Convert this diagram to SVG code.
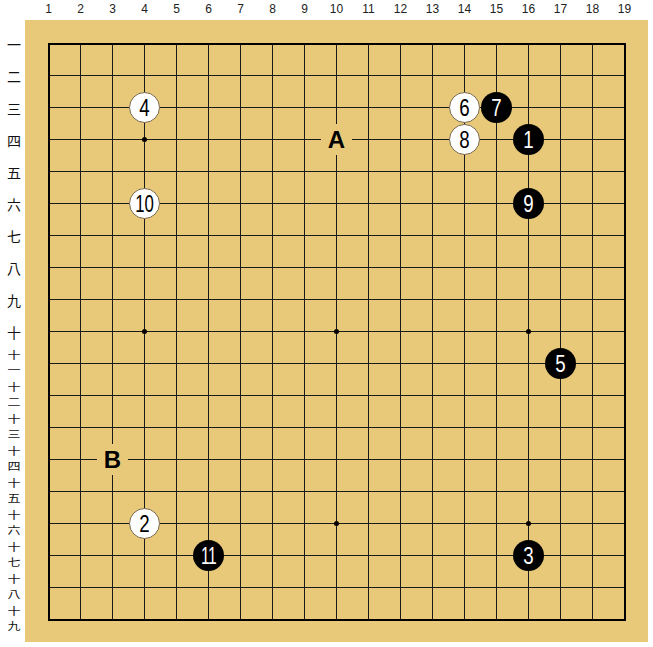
<svg xmlns="http://www.w3.org/2000/svg" width="653" height="647" viewBox="0 0 653 647">
<style>
.col{font-family:"Liberation Sans",Arial,sans-serif;font-size:12px;fill:#222;text-anchor:middle}
.row{font-family:"Noto Sans CJK JP","Noto Sans CJK SC",sans-serif;font-size:14px;fill:#111;text-anchor:middle;dominant-baseline:central}
.rs{font-family:"Noto Sans CJK JP","Noto Sans CJK SC",sans-serif;font-size:10px;fill:#111;text-anchor:middle}
.g{stroke:#1a1a1a;stroke-width:1}
.b{fill:#000}
.w{fill:#fff;stroke:#7a6a50;stroke-width:1}
.nb{font-family:"Liberation Sans",Arial,sans-serif;font-size:24px;fill:#fff;text-anchor:middle}
.nw{font-family:"Liberation Sans",Arial,sans-serif;font-size:24px;fill:#000;text-anchor:middle}
.lab{font-family:"Liberation Sans",Arial,sans-serif;font-size:24px;font-weight:bold;fill:#000;text-anchor:middle}
.mask{fill:#E8C97A}
</style>
<rect x="0" y="0" width="653" height="647" fill="#fff"/>
<rect x="25" y="20" width="623" height="622" fill="#E8C97A"/>
<g id="coords">
<text class="col" x="48.5" y="13">1</text><text class="col" x="80.5" y="13">2</text><text class="col" x="112.5" y="13">3</text><text class="col" x="144.5" y="13">4</text><text class="col" x="176.5" y="13">5</text><text class="col" x="208.5" y="13">6</text><text class="col" x="240.5" y="13">7</text><text class="col" x="272.5" y="13">8</text><text class="col" x="304.5" y="13">9</text><text class="col" x="336.5" y="13">10</text><text class="col" x="368.5" y="13">11</text><text class="col" x="400.5" y="13">12</text><text class="col" x="432.5" y="13">13</text><text class="col" x="464.5" y="13">14</text><text class="col" x="496.5" y="13">15</text><text class="col" x="528.5" y="13">16</text><text class="col" x="560.5" y="13">17</text><text class="col" x="592.5" y="13">18</text><text class="col" x="624.5" y="13">19</text>
<text class="row" x="14" y="43.5">一</text><text class="row" x="14" y="75.5">二</text><text class="row" x="14" y="107.5">三</text><text class="row" x="14" y="139.5">四</text><text class="row" x="14" y="171.5">五</text><text class="row" x="14" y="203.5">六</text><text class="row" x="14" y="235.5">七</text><text class="row" x="14" y="267.5">八</text><text class="row" x="14" y="299.5">九</text><text class="row" x="14" y="331.5">十</text>
<g transform="translate(14 0) scale(1.3 1)">
<text class="rs" x="0" y="359"><tspan x="0">十</tspan><tspan x="0" dy="15">一</tspan></text>
<text class="rs" x="0" y="391"><tspan x="0">十</tspan><tspan x="0" dy="15">二</tspan></text>
<text class="rs" x="0" y="423"><tspan x="0">十</tspan><tspan x="0" dy="15">三</tspan></text>
<text class="rs" x="0" y="455"><tspan x="0">十</tspan><tspan x="0" dy="15">四</tspan></text>
<text class="rs" x="0" y="487"><tspan x="0">十</tspan><tspan x="0" dy="15">五</tspan></text>
<text class="rs" x="0" y="519"><tspan x="0">十</tspan><tspan x="0" dy="15">六</tspan></text>
<text class="rs" x="0" y="551"><tspan x="0">十</tspan><tspan x="0" dy="15">七</tspan></text>
<text class="rs" x="0" y="583"><tspan x="0">十</tspan><tspan x="0" dy="15">八</tspan></text>
<text class="rs" x="0" y="615"><tspan x="0">十</tspan><tspan x="0" dy="15">九</tspan></text>
</g>
</g>
<g id="grid">
<path class="g" d="M80.5 43.5V619.5M112.5 43.5V619.5M144.5 43.5V619.5M176.5 43.5V619.5M208.5 43.5V619.5M240.5 43.5V619.5M272.5 43.5V619.5M304.5 43.5V619.5M336.5 43.5V619.5M368.5 43.5V619.5M400.5 43.5V619.5M432.5 43.5V619.5M464.5 43.5V619.5M496.5 43.5V619.5M528.5 43.5V619.5M560.5 43.5V619.5M592.5 43.5V619.5"/>
<path class="g" d="M49 75.5H625M49 107.5H625M49 139.5H625M49 171.5H625M49 203.5H625M49 235.5H625M49 267.5H625M49 299.5H625M49 331.5H625M49 363.5H625M49 395.5H625M49 427.5H625M49 459.5H625M49 491.5H625M49 523.5H625M49 555.5H625M49 587.5H625"/>
<rect x="49" y="44" width="576" height="576" fill="none" stroke="#000" stroke-width="2"/>
<g fill="#000">
<circle cx="144.5" cy="139.5" r="2.5"/><circle cx="144.5" cy="331.5" r="2.5"/><circle cx="336.5" cy="331.5" r="2.5"/><circle cx="528.5" cy="331.5" r="2.5"/><circle cx="336.5" cy="523.5" r="2.5"/><circle cx="528.5" cy="523.5" r="2.5"/>
</g>
</g>
<g id="labelA"><rect class="mask" x="321" y="124" width="31" height="31"/><text class="lab" x="336.5" y="148">A</text></g>
<g id="labelB"><rect class="mask" x="97" y="444" width="31" height="31"/><text class="lab" x="112.5" y="468">B</text></g>
<g id="s1"><circle class="b" cx="528.5" cy="139.5" r="15.5"/><text class="nb" transform="translate(528.5 148) scale(0.78 1)">1</text></g>
<g id="s2"><circle class="w" cx="144.5" cy="523.5" r="15"/><text class="nw" transform="translate(144.5 532) scale(0.78 1)">2</text></g>
<g id="s3"><circle class="b" cx="528.5" cy="555.5" r="15.5"/><text class="nb" transform="translate(528.5 564) scale(0.78 1)">3</text></g>
<g id="s4"><circle class="w" cx="144.5" cy="107.5" r="15"/><text class="nw" transform="translate(144.5 116) scale(0.78 1)">4</text></g>
<g id="s5"><circle class="b" cx="560.5" cy="363.5" r="15.5"/><text class="nb" transform="translate(560.5 372) scale(0.78 1)">5</text></g>
<g id="s6"><circle class="w" cx="464.5" cy="107.5" r="15"/><text class="nw" transform="translate(464.5 116) scale(0.78 1)">6</text></g>
<g id="s7"><circle class="b" cx="496.5" cy="107.5" r="15.5"/><text class="nb" transform="translate(496.5 116) scale(0.78 1)">7</text></g>
<g id="s8"><circle class="w" cx="464.5" cy="139.5" r="15"/><text class="nw" transform="translate(464.5 148) scale(0.78 1)">8</text></g>
<g id="s9"><circle class="b" cx="528.5" cy="203.5" r="15.5"/><text class="nb" transform="translate(528.5 212) scale(0.78 1)">9</text></g>
<g id="s10"><circle class="w" cx="144.5" cy="203.5" r="15"/><text class="nw" transform="translate(144.5 212) scale(0.7 1)">10</text></g>
<g id="s11"><circle class="b" cx="208.5" cy="555.5" r="15.5"/><text class="nb" transform="translate(208.5 564) scale(0.65 1)" letter-spacing="-1">11</text></g>
</svg>
